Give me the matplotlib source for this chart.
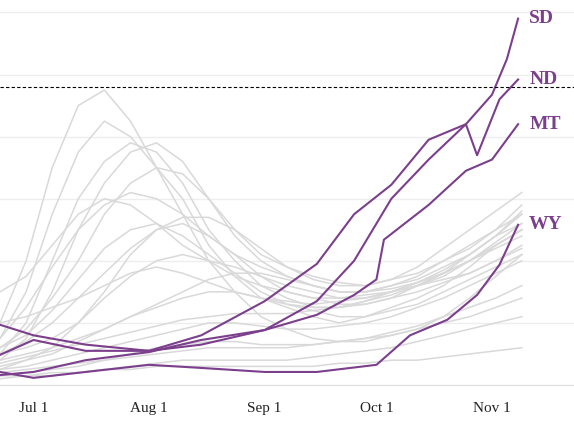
import matplotlib
matplotlib.use("Agg")
import matplotlib.pyplot as plt
import numpy as np
import pandas as pd

weeks = pd.date_range("2020-06-22", periods=21, freq="7D")
gray_series = [
    [20,40,70,90,95,85,70,55,40,30,22,18,15,14,14,16,18,22,28,35,42],
    [15,30,55,75,85,80,70,60,45,35,28,25,22,20,22,25,28,32,38,45,50],
    [10,20,40,60,72,78,75,65,50,40,32,28,25,25,27,30,33,37,42,48,55],
    [8,15,30,50,65,75,78,72,60,48,40,35,32,30,30,32,35,40,45,50,58],
    [12,18,28,40,55,65,70,68,60,50,42,38,35,33,32,34,36,40,44,50,55],
    [15,25,38,50,58,62,60,55,48,42,38,35,32,30,30,32,34,38,42,48,52],
    [5,8,12,20,30,42,50,52,48,42,35,30,28,26,26,28,32,36,42,48,56],
    [10,12,15,20,28,35,40,42,40,38,35,32,30,28,28,30,32,35,40,45,50],
    [20,22,25,28,32,36,38,36,33,30,28,27,26,27,28,30,33,36,40,44,48],
    [8,10,12,15,18,22,25,28,30,30,28,26,25,25,26,28,30,33,36,40,45],
    [5,6,8,10,12,14,16,18,20,20,19,18,18,19,20,22,25,28,32,36,40],
    [3,4,5,6,8,10,12,13,14,14,13,13,13,14,15,17,19,22,25,28,32],
    [4,5,6,7,8,9,10,11,12,12,12,12,13,14,15,16,18,20,22,25,28],
    [2,3,3,4,5,6,7,8,8,8,8,8,9,10,11,12,14,16,18,20,22],
    [6,8,10,14,18,22,26,30,34,36,36,34,32,30,30,31,33,36,40,46,52],
    [30,35,45,55,60,58,52,45,40,35,32,30,28,28,29,30,32,34,36,40,44],
    [3,3,4,4,5,5,6,6,6,6,6,6,6,7,7,8,8,9,10,11,12],
    [10,14,20,28,36,44,50,54,54,50,44,38,34,32,32,34,38,44,50,56,62],
    [7,9,11,13,15,17,19,21,22,23,23,23,24,25,27,29,32,36,40,45,50],
    [12,16,24,34,44,50,52,48,42,36,30,26,24,22,22,24,26,30,34,38,42],
]

sd_dates = ["2020-06-22","2020-07-01","2020-07-15","2020-08-01","2020-08-15","2020-09-01","2020-09-15","2020-09-25","2020-10-05","2020-10-15","2020-10-25","2020-11-01","2020-11-05","2020-11-08"]
sd_vals = [9.7,14.5,11,11,13,17.7,27,40,60,72.6,84,93.5,105,118]
nd_dates = ["2020-06-22","2020-07-01","2020-07-15","2020-08-01","2020-08-15","2020-09-01","2020-09-15","2020-09-25","2020-10-05","2020-10-15","2020-10-25","2020-10-28","2020-11-03","2020-11-08"]
nd_vals = [19.4,16,13,11,16,27,39,55,64.5,79,84,74,92,98.4]
mt_dates = ["2020-06-22","2020-07-01","2020-07-15","2020-08-01","2020-08-15","2020-09-01","2020-09-15","2020-09-25","2020-10-01","2020-10-03","2020-10-15","2020-10-25","2020-11-01","2020-11-08"]
mt_vals = [3.2,4.2,8,10.6,14.5,17.7,22.6,29,34,46.8,58,69,72.6,84]
wy_dates = ["2020-06-22","2020-07-01","2020-07-15","2020-08-01","2020-08-15","2020-09-01","2020-09-15","2020-10-01","2020-10-10","2020-10-20","2020-10-28","2020-11-03","2020-11-08"]
wy_vals = [4.2,2.3,4.2,6.5,5.5,4.2,4.2,6.5,16,21,29,38.7,51.6]
highlight = [("SD", sd_dates, sd_vals), ("ND", nd_dates, nd_vals),
             ("MT", mt_dates, mt_vals), ("WY", wy_dates, wy_vals)]
tick_labels = ["Jul 1", "Aug 1", "Sep 1", "Oct 1", "Nov 1"]
tick_dates = ["2020-07-01", "2020-08-01", "2020-09-01", "2020-10-01", "2020-11-01"]
dashed_level = 96

purple = "#7b3f8c"
fig = plt.figure(figsize=(5.74, 4.4), dpi=100)
ax = fig.add_axes([0, 0.125, 1, 0.875])
for s in gray_series:
    ax.plot(weeks, s, color="#d9d9d9", lw=1.1, zorder=2)
for name, d, v in highlight:
    dd = pd.to_datetime(d)
    ax.plot(dd, v, color=purple, lw=1.5, zorder=3)
    ax.annotate(name, (dd[-1], v[-1]), xytext=(8, 0), textcoords="offset points",
                va="center", ha="left", color=purple, fontsize=14,
                fontweight="bold", family="Liberation Serif")
ax.axhline(dashed_level, color="black", ls=(0, (3, 2)), lw=0.8, zorder=4)
ax.set_xlim(pd.Timestamp("2020-06-22"), pd.Timestamp("2020-11-23"))
ax.set_ylim(0, 124)
ax.set_yticks([0, 20, 40, 60, 80, 100, 120])
ax.yaxis.set_tick_params(length=0, labelleft=False)
ax.grid(axis="y", color="#eeeeee", lw=1, zorder=0)
ax.set_xticks(pd.to_datetime(tick_dates))
ax.set_xticklabels(tick_labels, family="Liberation Serif", fontsize=11, color="#222222")
ax.tick_params(axis="x", length=0, pad=12)
for sp in ["top", "left", "right"]:
    ax.spines[sp].set_visible(False)
ax.spines["bottom"].set_color("#dddddd")
fig.savefig("out.png", dpi=100)
